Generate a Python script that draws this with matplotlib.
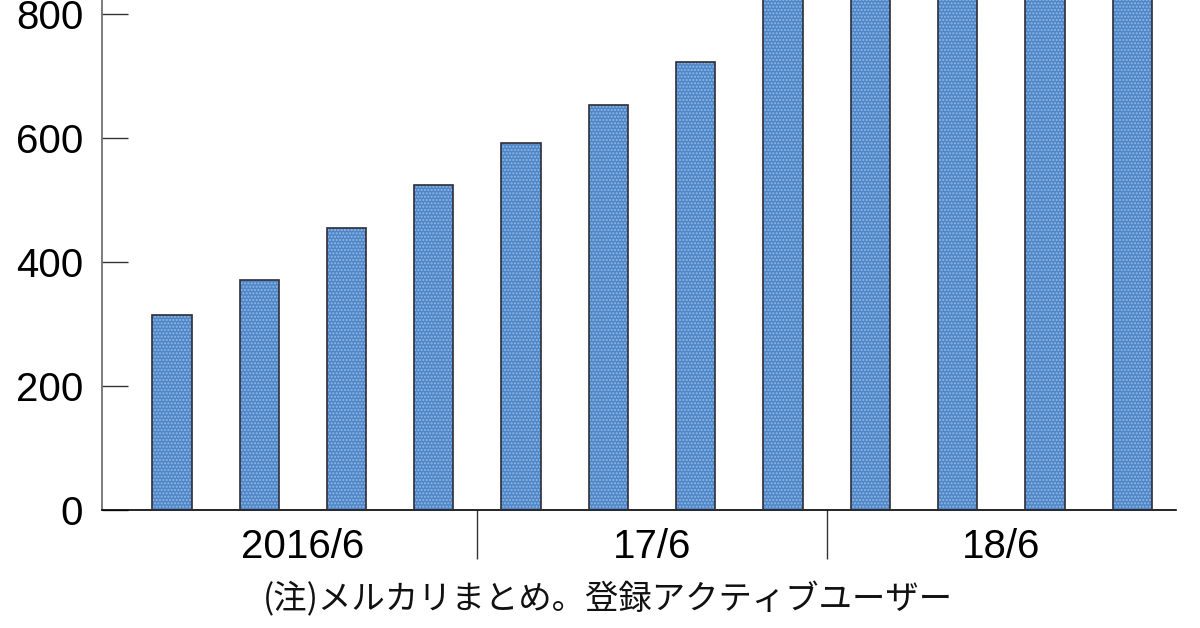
import matplotlib
matplotlib.use('Agg')
import matplotlib.pyplot as plt

# Mercari registered active users (10,000 people), quarterly
# bars 8-12 run off the top of the picture, so their values are guesses
values = [314, 371, 455, 524, 592, 653, 722, 850, 900, 960, 1000, 1075]
period_labels = ["2016/6", "17/6", "18/6"]
period_label_pos = [1.5, 5.5, 9.5]
period_sep_pos = [3.5, 7.5]
y_ticks = [0, 200, 400, 600, 800]
note = "(注)メルカリまとめ。登録アクティブユーザー"

NUM_FONT = ['Liberation Sans Narrow', 'Liberation Sans', 'DejaVu Sans']
JP_FONT = ['Noto Sans CJK JP', 'DejaVu Sans']

fig = plt.figure(figsize=(12, 6.28), dpi=100)
ax = fig.add_axes([0.085, 0.188, 0.895, 0.812])

x = range(len(values))
# dotted fill, then the dark outline on top
ax.bar(x, values, width=0.45, color='#4e86c8', edgecolor='#93b8e4',
       hatch='.....', linewidth=0, zorder=2)
ax.bar(x, values, width=0.45, fill=False, edgecolor='#2e2e38',
       linewidth=1.2, zorder=3)

ax.set_xlim(-0.8, 11.5)
ax.set_ylim(0, 822.6)

# Spines
ax.spines['top'].set_visible(False)
ax.spines['right'].set_visible(False)
ax.spines['left'].set_color('#666666')
ax.spines['left'].set_linewidth(1.2)
ax.spines['bottom'].set_color('black')
ax.spines['bottom'].set_linewidth(1.2)

# Y axis: inward ticks
ax.set_yticks(y_ticks)
ax.tick_params(axis='y', direction='in', length=18.7, width=1.0,
               color='#333333', pad=13.5)
for lab in ax.get_yticklabels():
    lab.set_family(NUM_FONT)
    lab.set_fontsize(29)

# X axis: separators as major ticks, period names as minor tick labels
ax.set_xticks(period_sep_pos)
ax.set_xticklabels([])
ax.tick_params(axis='x', which='major', direction='out', length=35,
               width=1.0, color='#333333')
ax.set_xticks(period_label_pos, minor=True)
ax.set_xticklabels(period_labels, minor=True)
ax.tick_params(axis='x', which='minor', length=0, pad=13)
for lab in ax.get_xticklabels(minor=True):
    lab.set_family(NUM_FONT)
    lab.set_fontsize(29)

# Note under the chart
fig.text(0.219, 0.045, note, family=JP_FONT, fontsize=24,
         ha='left', va='center', color='#111111')

fig.savefig('out.png', dpi=100)
